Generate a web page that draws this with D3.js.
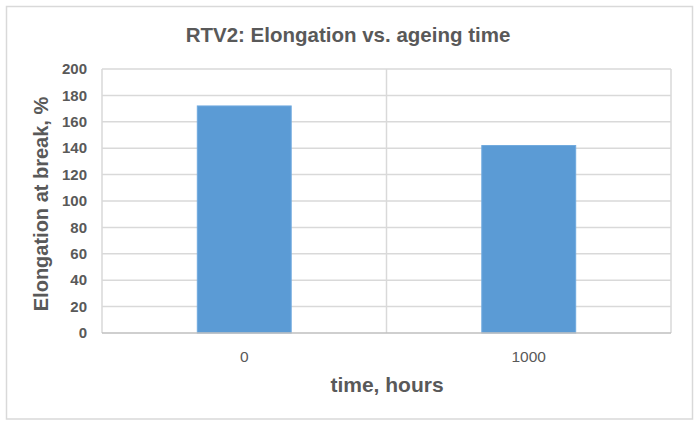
<!DOCTYPE html>
<html><head><meta charset="utf-8">
<script src="https://cdn.jsdelivr.net/npm/d3@7"></script>
<style>body{margin:0;background:#fff}svg{display:block}</style>
</head><body>
<svg id="c" width="700" height="427"></svg>
<script>
const categories = ["0", "1000"];
const values = [172, 142];
const yTicks = [0, 20, 40, 60, 80, 100, 120, 140, 160, 180, 200];
const title = "RTV2: Elongation vs. ageing time";
const xTitle = "time, hours";
const yTitle = "Elongation at break, %";

const svg = d3.select("#c");
const W = 700, H = 427;
const m = {left: 102, right: 29, top: 69, bottom: 94};
const pw = W - m.left - m.right, ph = H - m.top - m.bottom;
const FONT = "Liberation Sans, Arial, sans-serif";

svg.append("rect").attr("x", 0).attr("y", 0).attr("width", W).attr("height", H).attr("fill", "#fff");
svg.append("rect").attr("x", 6.5).attr("y", 6.5).attr("width", 686).attr("height", 412.5)
  .attr("fill", "#fff").attr("stroke", "#d9d9d9").attr("stroke-width", 1.5);

const x = d3.scaleBand().domain(categories).range([m.left, m.left + pw]).paddingInner(0).paddingOuter(0);
const y = d3.scaleLinear().domain([0, 200]).range([m.top + ph, m.top]);

const g = svg.append("g");
g.selectAll(".hg").data(yTicks.filter(d => d > 0)).join("line")
  .attr("x1", m.left).attr("x2", m.left + pw)
  .attr("y1", d => y(d)).attr("y2", d => y(d))
  .attr("stroke", "#d9d9d9").attr("stroke-width", 1.5);
const bounds = categories.map(c => x(c)).concat([x(categories[categories.length - 1]) + x.bandwidth()]);
g.selectAll(".vg").data(bounds).join("line")
  .attr("x1", d => d).attr("x2", d => d)
  .attr("y1", m.top).attr("y2", m.top + ph)
  .attr("stroke", "#d9d9d9").attr("stroke-width", 1.5);

const bw = x.bandwidth() * 0.33;
g.selectAll(".bar").data(values).join("rect")
  .attr("x", (d, i) => x(categories[i]) + x.bandwidth() / 2 - bw / 2)
  .attr("width", bw)
  .attr("y", d => y(d))
  .attr("height", d => y(0) - y(d))
  .attr("fill", "#5b9bd5").attr("stroke", "#6fa9de").attr("stroke-width", 1);

g.append("line").attr("x1", m.left).attr("x2", m.left + pw)
  .attr("y1", y(0)).attr("y2", y(0)).attr("stroke", "#bfbfbf").attr("stroke-width", 1.5);

g.selectAll(".yt").data(yTicks).join("text")
  .attr("x", 87).attr("y", d => y(d)).attr("dy", "0.35em")
  .attr("text-anchor", "end")
  .attr("font-family", FONT)
  .attr("font-size", 15).attr("font-weight", "bold").attr("fill", "#595959")
  .text(d => d);

g.selectAll(".xt").data(categories).join("text")
  .attr("x", d => x(d) + x.bandwidth() / 2).attr("y", 362)
  .attr("text-anchor", "middle")
  .attr("font-family", FONT)
  .attr("font-size", 15.5).attr("fill", "#595959")
  .text(d => d);

svg.append("text").attr("x", 348).attr("y", 41.5).attr("text-anchor", "middle")
  .attr("font-family", FONT)
  .attr("font-size", 20.5).attr("font-weight", "bold").attr("fill", "#595959")
  .text(title);
svg.append("text").attr("x", 387).attr("y", 392).attr("text-anchor", "middle")
  .attr("font-family", FONT)
  .attr("font-size", 21).attr("font-weight", "bold").attr("fill", "#595959")
  .text(xTitle);
svg.append("text").attr("transform", "translate(48," + (m.top + ph / 2 + 3) + ") rotate(-90)")
  .attr("text-anchor", "middle")
  .attr("font-family", FONT)
  .attr("font-size", 20).attr("font-weight", "bold").attr("fill", "#595959")
  .text(yTitle);
</script>
</body></html>
